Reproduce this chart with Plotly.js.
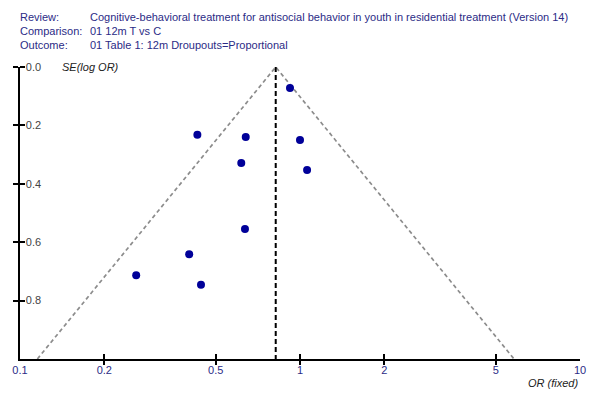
<!DOCTYPE html>
<html>
<head>
<meta charset="utf-8">
<script src="https://cdn.plot.ly/plotly-3.0.1.min.js"></script>
<style>
  body { margin: 0; background: #fff; }
  #plot1 { width: 600px; height: 400px; }
</style>
</head>
<body>
<div id="plot1"></div>
<script>
// study estimates
var studyOR = [0.921, 0.430, 0.640, 1.00, 0.617, 1.06, 0.636, 0.402, 0.260, 0.443];
var studySE = [0.072, 0.232, 0.240, 0.250, 0.329, 0.353, 0.555, 0.641, 0.713, 0.746];
var pooledOR = 0.819;
var seRange = [0, 1];
var xTicks = [0.1, 0.2, 0.5, 1, 2, 5, 10];
var yTicks = [0, 0.2, 0.4, 0.6, 0.8];
var headerLabels = ['Review:', 'Comparison:', 'Outcome:'];
var headerValues = [
  'Cognitive-behavioral treatment for antisocial behavior in youth in residential treatment (Version 14)',
  '01 12m T vs C',
  '01 Table 1: 12m Droupouts=Proportional'
];

var seMax = seRange[1];
var funnelX = [pooledOR * Math.exp(-1.96 * seMax), pooledOR, pooledOR * Math.exp(1.96 * seMax)];
var funnelY = [seMax, 0, seMax];

var labelColor = '#2b2b86';
var font = {family: 'Liberation Sans, Arial, sans-serif', size: 11, color: labelColor};

var funnel = {
  x: funnelX, y: funnelY,
  type: 'scatter', mode: 'lines',
  line: {color: '#8c8c8c', width: 1.7, dash: '4px,3px'},
  hoverinfo: 'skip'
};
var pooled = {
  x: [pooledOR, pooledOR], y: seRange,
  type: 'scatter', mode: 'lines',
  line: {color: '#000', width: 2, dash: '5px,3px'},
  hoverinfo: 'skip'
};
var studies = {
  x: studyOR, y: studySE,
  type: 'scatter', mode: 'markers',
  marker: {color: '#000099', size: 8}
};

var annotations = [];
for (var i = 0; i < headerLabels.length; i++) {
  annotations.push({
    xref: 'paper', yref: 'paper', x: 0, y: 1,
    xanchor: 'left', yanchor: 'middle', showarrow: false,
    xshift: -2, yshift: 50 - i * 14,
    text: headerLabels[i], font: font
  });
  annotations.push({
    xref: 'paper', yref: 'paper', x: 0, y: 1,
    xanchor: 'left', yanchor: 'middle', showarrow: false,
    xshift: 68, yshift: 50 - i * 14,
    text: headerValues[i], font: font
  });
}
annotations.push({
  xref: 'paper', yref: 'paper', x: 0, y: 1,
  xanchor: 'left', yanchor: 'middle', showarrow: false, xshift: 40,
  text: '<i>SE(log OR)</i>', font: {family: font.family, size: 11, color: '#222'}
});
annotations.push({
  xref: 'paper', yref: 'paper', x: 1, y: 0,
  xanchor: 'right', yanchor: 'middle', showarrow: false, yshift: -24,
  text: '<i>OR (fixed)</i>', font: {family: font.family, size: 11, color: '#222'}
});

var layout = {
  width: 600, height: 400,
  margin: {l: 20, r: 20, t: 67, b: 41},
  paper_bgcolor: '#fff', plot_bgcolor: '#fff',
  showlegend: false,
  font: font,
  xaxis: {
    type: 'log',
    range: [-1, 1],
    tickvals: xTicks,
    ticktext: xTicks.map(String),
    ticks: 'inside', ticklen: 5, tickwidth: 2, tickcolor: '#000',
    minor: {tickvals: xTicks, ticks: 'outside', ticklen: 4, tickwidth: 2, tickcolor: '#000', showgrid: false},
    ticklabeloverflow: 'allow',
    showline: true, linecolor: '#000', linewidth: 2,
    showgrid: false, zeroline: false,
    fixedrange: true
  },
  yaxis: {
    range: [1, 0],
    tickvals: yTicks,
    ticktext: yTicks.map(function (v) { return v.toFixed(1); }),
    ticks: 'outside', ticklen: 5, tickwidth: 2, tickcolor: '#000',
    minor: {tickvals: yTicks, ticks: 'inside', ticklen: 5, tickwidth: 2, tickcolor: '#000', showgrid: false},
    ticklabelposition: 'inside',
    ticklabeloverflow: 'allow',
    ticklabelstandoff: 5,
    showline: true, linecolor: '#000', linewidth: 2,
    showgrid: false, zeroline: false,
    fixedrange: true
  },
  annotations: annotations
};

Plotly.newPlot('plot1', [funnel, pooled, studies], layout, {displayModeBar: false});
</script>
</body>
</html>
